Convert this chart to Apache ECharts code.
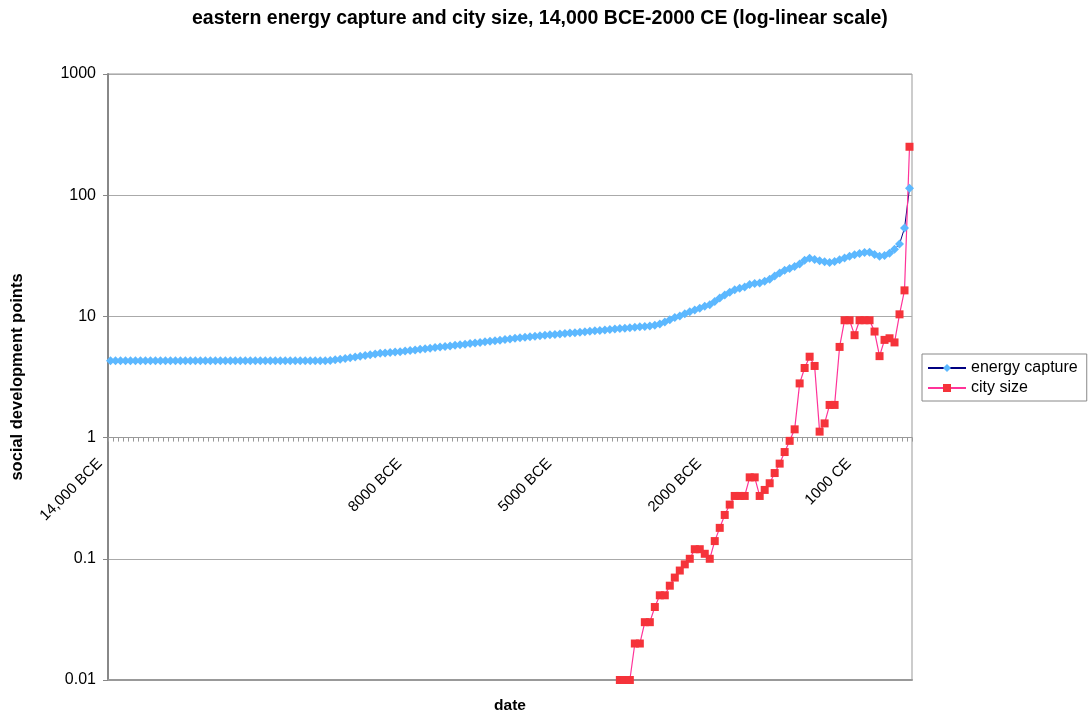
<!DOCTYPE html>
<html>
<head>
<meta charset="utf-8">
<script src="https://cdn.jsdelivr.net/npm/echarts@6/dist/echarts.min.js"></script>
<style>
html,body{margin:0;padding:0;background:#ffffff;}
#chart{width:1089px;height:717px;}
</style>
</head>
<body>
<div id="chart"></div>
<script>
// ---- data ----
const startYear = -14000;
const stepYears = 100;

// eastern energy capture, one value per century, 14,000 BCE .. 2000 CE
const energyCapture = [
  4.3, 4.3, 4.3, 4.3, 4.3, 4.3, 4.3, 4.3, 4.3, 4.3,
  4.3, 4.3, 4.3, 4.3, 4.3, 4.3, 4.3, 4.3, 4.3, 4.3,
  4.3, 4.3, 4.3, 4.3, 4.3, 4.3, 4.3, 4.3, 4.3, 4.3,
  4.3, 4.3, 4.3, 4.3, 4.3, 4.3, 4.3, 4.3, 4.3, 4.3,
  4.3, 4.3, 4.3, 4.3, 4.32, 4.38, 4.44, 4.5, 4.56, 4.62,
  4.69, 4.76, 4.83, 4.9, 4.96, 5.0, 5.04, 5.08, 5.12, 5.18,
  5.23, 5.29, 5.35, 5.41, 5.47, 5.53, 5.59, 5.65, 5.71, 5.78,
  5.84, 5.9, 5.97, 6.03, 6.1, 6.17, 6.24, 6.3, 6.37, 6.44,
  6.52, 6.59, 6.66, 6.73, 6.8, 6.86, 6.92, 6.98, 7.04, 7.1,
  7.16, 7.22, 7.28, 7.34, 7.4, 7.47, 7.53, 7.6, 7.66, 7.73,
  7.79, 7.86, 7.93, 8.0, 8.06, 8.13, 8.2, 8.27, 8.35, 8.45,
  8.65, 9.0, 9.4, 9.8, 10.1, 10.5, 10.9, 11.3, 11.7, 12.1,
  12.5, 13.3, 14.2, 15.0, 15.8, 16.6, 17.1, 17.5, 18.3, 18.7,
  18.9, 19.5, 20.3, 21.5, 22.8, 24.0, 24.8, 25.8, 27.0, 29.0,
  30.2, 29.5, 28.8, 28.2, 27.8, 28.4, 29.4, 30.3, 31.3, 32.2,
  33.0, 33.6, 33.8, 32.4, 31.3, 31.8, 33.2, 35.8, 39.5, 53.5,
  114
];

// eastern city size, one value per century starting 3800 BCE
const citySizeStartYear = -3800;
const citySize = [
  0.01, 0.01, 0.01, 0.02, 0.02, 0.03, 0.03, 0.04, 0.05, 0.05,
  0.06, 0.07, 0.08, 0.09, 0.1, 0.12, 0.12, 0.11, 0.1, 0.14,
  0.18, 0.23, 0.28, 0.33, 0.33, 0.33, 0.47, 0.47, 0.33, 0.37,
  0.42, 0.51, 0.61, 0.76, 0.94, 1.17, 2.8, 3.75, 4.65, 3.9,
  1.12, 1.31, 1.86, 1.86, 5.6, 9.3, 9.3, 7.0, 9.3, 9.3,
  9.3, 7.5, 4.7, 6.4, 6.6, 6.1, 10.4, 16.4, 251
];

const tickYears = [-14000, -8000, -5000, -2000, 1000];
const tickLabels = ['14,000 BCE', '8000 BCE', '5000 BCE', '2000 BCE', '1000 CE'];
const yTickValues = [0.01, 0.1, 1, 10, 100, 1000];

// ---- build ----
const years = energyCapture.map((_, i) => startYear + i * stepYears);
const categories = years.map(String);
const cityData = years.map(y => {
  const k = (y - citySizeStartYear) / stepYears;
  return (k >= 0 && k < citySize.length) ? citySize[k] : null;
});

const FONT = '"Liberation Sans", Arial, Helvetica, sans-serif';
const gridTop = 74, gridBottom = 37, chartH = 717;
const gridH = chartH - gridTop - gridBottom;
const logMin = Math.log10(yTickValues[0]), logMax = Math.log10(yTickValues[yTickValues.length - 1]);
// distance from the bottom of the plot up to the value 1 line (axis crossing)
const crossOffset = gridH * (0 - logMin) / (logMax - logMin);

const chart = echarts.init(document.getElementById('chart'), null, {renderer: 'canvas'});
chart.setOption({
  animation: false,
  backgroundColor: '#ffffff',
  textStyle: {fontFamily: FONT},
  title: {
    text: 'eastern energy capture and city size, 14,000 BCE-2000 CE (log-linear scale)',
    left: 187,
    top: 4,
    textStyle: {fontFamily: FONT, fontSize: 19.5, fontWeight: 'bold', color: '#000'}
  },
  legend: {
    orient: 'vertical',
    left: 922,
    top: 354,
    itemWidth: 38,
    itemHeight: 10,
    itemGap: 4,
    padding: [6, 9, 5, 5],
    borderColor: '#888',
    borderWidth: 1,
    textStyle: {fontFamily: FONT, fontSize: 16, color: '#000'},
    data: ['energy capture', 'city size']
  },
  grid: {
    left: 108, right: 177, top: gridTop, bottom: gridBottom,
    show: true, borderColor: '#999', borderWidth: 1,
    containLabel: false, outerBoundsMode: 'none'
  },
  xAxis: [
    {
      type: 'category', data: categories, position: 'bottom', boundaryGap: true,
      axisLine: {show: true, lineStyle: {color: '#999', width: 2}},
      axisTick: {show: false}, axisLabel: {show: false}, splitLine: {show: false},
      name: 'date', nameLocation: 'middle', nameGap: 18,
      nameTextStyle: {fontFamily: FONT, fontSize: 15.5, fontWeight: 'bold', color: '#000'}
    },
    {
      type: 'category', data: categories, position: 'bottom', boundaryGap: true,
      offset: -crossOffset,
      axisLine: {show: true, onZero: false, lineStyle: {color: '#999', width: 1}},
      axisTick: {show: true, interval: 0, length: 4, lineStyle: {color: '#999'}},
      axisLabel: {
        show: true, rotate: 45, margin: 13, padding: [0, 15, 0, 0],
        fontSize: 15, color: '#000', fontFamily: FONT,
        interval: (index, value) => tickYears.indexOf(Number(value)) >= 0,
        formatter: value => {
          const k = tickYears.indexOf(Number(value));
          return k >= 0 ? tickLabels[k] : '';
        }
      },
      splitLine: {show: false}
    }
  ],
  yAxis: {
    type: 'log', logBase: 10, min: yTickValues[0], max: yTickValues[yTickValues.length - 1],
    axisLine: {show: true, lineStyle: {color: '#888', width: 2}},
    axisTick: {show: true, length: 5, lineStyle: {color: '#888'}},
    axisLabel: {
      fontSize: 16, color: '#000', margin: 12, fontFamily: FONT,
      formatter: v => {
        for (const t of yTickValues) { if (Math.abs(Math.log10(v / t)) < 0.01) return String(t); }
        return '';
      }
    },
    splitLine: {show: true, lineStyle: {color: '#aaa', width: 1}},
    name: 'social development points', nameLocation: 'middle', nameGap: 82, nameRotate: 90,
    nameTextStyle: {fontFamily: FONT, fontSize: 16.5, fontWeight: 'bold', color: '#000'}
  },
  series: [
    {
      name: 'energy capture', type: 'line', xAxisIndex: 0, data: energyCapture,
      symbol: 'diamond', symbolSize: 9, showAllSymbol: true,
      lineStyle: {color: '#000080', width: 1},
      itemStyle: {color: '#5cb8ff'}
    },
    {
      name: 'city size', type: 'line', xAxisIndex: 0, data: cityData,
      symbol: 'rect', symbolSize: 8, showAllSymbol: true, connectNulls: false,
      lineStyle: {color: '#ff3399', width: 1.2},
      itemStyle: {color: '#f5333a'}
    }
  ]
});
</script>
</body>
</html>
